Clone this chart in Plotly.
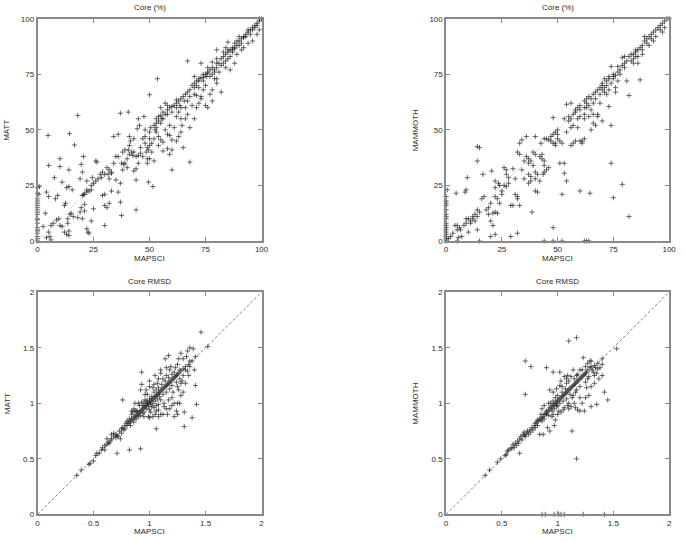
import plotly.graph_objects as go

# ---------------- data ----------------
# Panel A: Core (%)  MAPSCI (x) vs MATT (y)
core_matt = [
    (0,0),(0,1),(0,2),(0,3.5),(0,4.5),(0,5),(0,6),(0,8),(0,9.5),(0,10),(0,12),(0,13),(0,14),(0,15),(0,16),(0,17),(0,18),(0,19),(0,21.5),(0,24),
    (0.8,24.5),(0.6,21),(3.5,12.5),(2.5,6.5),(5.5,2),(6,0.5),(4,1.5),(5,4),(6,7),(7,8),(8.5,9.5),(9.5,10),(10,7),(11,6.5),(12,4),(13,3),
    (14,4.5),(14,2.5),(13.5,10),(12,16),(13.5,8),(14.5,12),(15,12.5),(16,11),(18,10.5),(19,13),(19.5,15),(20,10),(21,13.5),(21,16.5),
    (22,5.5),(22.5,4),(23,3.5),(24,9),(25,14.5),(22,23),(23,22.5),(24,23),(20,20.5),(20.5,21),(21,21),(22,22),(18,56.5),(4.7,47.5),
    (14.3,48.3),(16.5,43.2),(10,37),(10,33.5),(5,34),(14,32),(7.5,28.5),(11,26.5),(13,24),(14,24.5),(15.5,23),(4,22),(5,20),(9,20.5),
    (19.5,34.5),(20.5,38),(20,31),(19,28),(24.5,28.5),(26,36),(26.5,35.5),(22,27),(12.5,17),(8,19),
    (28,30),(28.5,28.5),(29,31),(30,30),(29,20.5),(30,21),(31,33),(31.5,30),(32,32),(33,31),(32,28),(33,22.5),(35,27.5),(37,26),(36,22),
    (37,17.5),(37.5,11.5),(38,32),(38.5,34.5),(39,35),(37.5,35),(40,37),(40,33),(41,39),(42,40),(42.5,38.5),(40.5,41),(41,43),(41,47),
    (41.5,45),(43,46),(43,40),(44,38),(45,38.5),(44,14),(44,27.5),(43,31.5),(44,32.5),(46,39.5),(47,46),(48,47),(48,44),(49,42),
    (49.5,41),(50,43),(49,37),(49,35),(49.5,26.5),(51.5,24.5),(36,48),(37,57.5),(40.5,58),(34,47),(45,55),(47.5,56),(50,65.8),(53.5,73),
    (45,35),(48.5,40),(50,37),(52,36),(51,40),(47,38),(46,42),(44.5,50.5),(45.5,52),(48,50),(50,49),(50.5,51),(52,52),(52.5,50),(53,53),
    (54,54),(34,35),(33,30.5),(35,38),(36,38),(38,40),(39,41),(27,28),(26,27),(25,26),(24,25),(30,16),(31,15),(30,7),(32,17),
    (53,55),(54,56),(55,56.5),(55.5,55),(56,58),(57,57),(58,59),(58,61),(59,60),(60,60.5),(61,61),(62,60),(62,62),(63,63),(63.5,61),
    (64,64),(64,60),(65,65),(65.5,63),(66,66),(67,67),(68,65),(68,68),(69,70),(70,69),(70,71),(71,70),(72,72),(72,69),(73,73.5),(74,72),
    (74,75),(75,75),(75.5,74),(53,49),(54,47),(55,45.5),(56,44.5),(57,50),(58,48),(59,52),(59,47.5),(60,45.5),(60,41),(58,41.5),
    (56,40.5),(54,43),(59,39),(60,32),(62,45),(63,47),(64,49),(65,42),(64.5,52),(66,55),(67,57),(68,51),(66,60),(67,63),(68,35.5),
    (70,55),(69,61),(71,60),(72,62),(73,65),(70,66),(71,65.5),(73,64),(74,68),(75,70),(74,73.5),(62,63.5),(60,58),(58,57),(56,55),
    (61,51),(62,56),(63,58),(64,55),(57,62),(55,60),(53,51),(67,81),(73,80),(70,74),(71,72),(72,73),(55,53),(52,46),(51,44),(50,46),
    (76,75.5),(76,76),(77,74),(77,77),(78,78),(78,75),(79,76),(79,73),(80,80),(80,78),(81,80),(81,76),(82,82),(82,79),(83,83),(83,80),
    (84,84),(84,81),(85,85),(85,86),(86,86),(86,83),(87,87),(87,85),(88,87),(88,89),(89,88),(89,90),(90,90),(90,88),(91,91),(91,89),
    (92,92),(92,91.5),(93,93),(93,92),(94,94),(94,95),(95,95),(95,93),(96,96),(96,95),(97,97),(97,96),(98,98),(98,97),(99,99),(99,100),
    (100,100),(98,93),(99,95),(92,87),(88,80),(82,67),(80,71),(78,63),(75,61),(76,60),(77,66),(78,68),(80,73),(84,78),(86,77),(87,86),
    (85,89.5),(84,87),(80,86),(79,77),(78,80.5),(76,78),(80,82),(90,92),(94,89),(96,90),(91,86),(88,86.5),(89,84),(85,82),(83,85),
]

# Panel B: Core (%)  MAPSCI (x) vs MAMMOTH (y)
core_mammoth = [
    (0,0),(0,1),(0,2),(0,3),(0,4),(0,5),(0,6),(0,7),(0,8),(0,10),(0,11),(0,12),(0,14),(0,16),(0,17),(0,18),(0,20),(0.5,23),
    (5,0),(15,0),(44,0),(48,0),(52,0),(62,0),(63,0),(64,0),
    (1,1),(2,2),(3,3.5),(4,7),(5,7),(5,5),(6,6),(6.5,5),(5.5,1.5),(7,2),(8,7),(9,8),(10,10),(11,9),(12,11),(13,12),(12,10),(14,11),
    (14,14),(15,13),(14,5),(10,4),(9,10),(11,8),(13,9),(4.5,21.5),(8.5,22),(9,23),(9.5,28.5),(14,42.5),(14,36),(15,42),(16.5,30),
    (17,20),(16,19),(18,14),(19,15),(20,17),(19,12),(20,9),(21,7),(20,2),(22,3),(21,12.5),(22,13),(22,20),(23,19),(23.5,26),(24,25),
    (25,21),(25,22.5),(20.5,31.5),(22,27),(22,24),(23,12.5),(24,17),(26,33),(27,32),(27,30),(26,25),(27,24.5),(28,26),(28,28.5),
    (29,16),(30,16),(29,2),(30,32.5),(31,28),(31,21),(32,20),(32,19),(32,40),(33,39),(33,16),(32,3.5),(34,32),(33,44),(34,45.5),
    (35,28),(35,36),(36,38),(36,47),(37,37),(37,35),(37,30),(37,26),(38,36),(38,29),(38,27),(39,40),(39,34),(38.5,13),(40,39),(40,47),
    (40,31),(40,28),(41,30),(40,22.5),(41,22),(42,38),(42,27),(42.5,44),(43,39),(43,37),(44,36),(44,34),(43.5,30),(44,31),(44,46),
    (45,46),(46,45.5),(47,45),(47,47),(48,48),(48,55.5),(48,6),(49,43),(49,44),(49,49),(50,48),(50,46),(51,45),(51,35),(52,44),(52,21),
    (53,35),(53,30.5),(54,27),(54,49),(53,55),(54,61.5),(55,54),(55,56),(56,55),(56,62),(56,51),(56,43),(57,44),(58,45),(57,52),(57,57),
    (58,58),(58,59),(59,51),(59,60),(60,59),(60,61),(60,22.5),(61,44),(60,45),(62,63),(62,57),(62,60),(62,55),(63,62),(63,64),(63,60),
    (64,65),(64,61),(64,56),(64.5,21.5),(65,64),(65,59),(65,50),(66,66),(66,53),(66,57),(67,67),(67,52),(68,56),(68,57),(68,68),(69,69),
    (69,66),(70,70),(70,68),(70,54),(70,71),(71,69),(71,67),(72,72),(72,70),(72,66),(73,73),(73,74),(73,68),(73,60.5),(74,78.5),(74,71),
    (74,52),(74,35),(75,75),(75,73),(75,74),(75,19.5),(76,69),(76,67),(77,76),(77,72),(78,77),(78,75),(79,79),(79,82.5),(79,25.5),
    (80,80),(80,78),(81,81),(81,72),(82,65.5),(82,11),(82,83),(83,84),(83,81),(84,84),(84,82),(85,86),(85,85),(86,86),(86,83),(87,87),
    (87,72.5),(88,88),(88,86),(89,90),(89,92),(90,91),(90,89),(91,92),(91,88),(92,93),(92,91),(93,94),(93,90),(94,95),(94,92),(95,96),
    (96,97),(96,95),(97,98),(98,99),(99,100),(100,100),(97,94),(98,96),(84,80),(85,83),(80,83),(77,78.5),(76,74.5),(86,80),(88,84),
    (62,46),(61,45),(46,33),(45,32),(48,44),(50,50),(69,62),(66,62),(67,64),(71,73),(60,56),(59,55),
]

# Panel C: Core RMSD  MAPSCI (x) vs MATT (y)
rmsd_matt = [
    (0.35,0.35),(0.39,0.4),(0.46,0.45),(0.47,0.46),(0.5,0.48),(0.52,0.53),(0.53,0.55),(0.55,0.55),(0.57,0.58),(0.58,0.6),(0.6,0.62),
    (0.6,0.58),(0.62,0.63),(0.62,0.68),(0.63,0.65),(0.64,0.64),(0.65,0.66),(0.66,0.72),(0.66,0.68),(0.68,0.7),(0.68,0.73),(0.7,0.72),
    (0.7,0.69),(0.71,0.71),(0.71,0.55),(0.72,0.7),(0.73,0.75),(0.74,0.68),(0.75,0.77),(0.75,0.73),(0.76,0.78),(0.76,1.03),(0.77,0.76),
    (0.78,0.8),(0.78,0.77),(0.79,0.82),(0.8,0.8),(0.8,0.84),(0.81,0.83),(0.82,0.58),(0.82,0.82),(0.82,0.86),(0.83,0.84),(0.83,0.8),
    (0.84,0.86),(0.84,0.9),(0.85,0.85),(0.85,0.92),(0.86,0.88),(0.86,0.83),(0.87,0.87),(0.87,0.93),(0.88,0.89),(0.88,0.86),(0.89,0.9),
    (0.89,0.93),(0.9,0.91),(0.9,0.88),(0.91,0.92),(0.92,0.59),(0.91,0.98),(0.92,0.93),(0.92,0.89),(0.93,0.94),(0.93,1.17),(0.93,1.28),
    (0.94,0.95),(0.94,0.98),(0.94,0.91),(0.95,0.96),(0.95,1.0),(0.95,0.92),(0.96,0.97),(0.96,1.03),(0.97,0.98),(0.97,0.95),(0.97,1.02),
    (0.98,0.99),(0.98,1.01),(0.98,1.08),(0.99,1.0),(0.99,0.97),(1.0,1.01),(1.0,1.04),(1.0,0.94),(1.01,1.02),(1.01,0.99),(1.02,1.03),
    (1.02,1.06),(1.02,0.97),(1.03,1.04),(1.03,1.0),(1.04,1.05),(1.04,1.1),(1.04,0.96),(1.05,1.06),(1.05,1.02),(1.06,0.77),(1.06,1.07),
    (1.06,1.12),(1.06,0.93),(1.07,1.08),(1.07,1.04),(1.08,1.09),(1.08,1.14),(1.08,0.99),(1.09,1.1),(1.09,1.06),(1.1,1.11),(1.1,1.03),
    (1.1,0.9),(1.11,1.12),(1.11,1.17),(1.12,1.13),(1.12,1.08),(1.13,1.14),(1.13,1.0),(1.14,1.15),(1.14,1.2),(1.15,1.16),(1.15,1.1),
    (1.15,0.95),(1.16,1.17),(1.17,1.18),(1.17,1.23),(1.18,1.19),(1.18,1.13),(1.19,1.2),(1.19,1.33),(1.2,1.21),(1.2,1.16),(1.2,1.05),
    (1.21,1.22),(1.22,1.23),(1.22,1.28),(1.23,1.24),(1.24,1.25),(1.24,1.19),(1.25,1.26),(1.25,1.0),(1.26,1.27),(1.27,1.3),(1.27,1.22),
    (1.28,1.29),(1.29,1.2),(1.3,1.31),(1.3,1.4),(1.31,0.79),(1.31,0.92),(1.32,1.33),(1.32,1.18),(1.34,1.47),(1.35,1.35),(1.36,1.5),
    (1.38,0.87),(1.38,1.38),(1.39,1.49),(1.41,1.42),(1.41,1.16),(1.42,0.99),(1.46,1.64),(1.52,1.51),(1.4,1.3),(1.35,1.25),(1.3,1.1),
    (1.28,1.07),(1.26,1.12),(1.22,0.88),(1.24,0.93),(1.16,0.9),(1.12,0.9),(1.08,0.88),(1.03,0.88),(0.99,0.88),(0.95,0.88),(1.0,0.87),
    (1.05,0.9),(0.97,1.12),(1.0,1.15),(0.92,1.12),(1.0,1.2),(1.05,1.25),(1.1,1.27),(1.17,1.43),(1.14,1.4),(1.1,1.3),(1.15,1.32),
    (1.08,1.22),(1.2,1.26),(1.23,1.32),(1.26,1.4),(1.28,1.45),(1.25,1.35),(1.33,1.42),(1.36,1.38),(1.03,1.14),(0.9,1.0),(0.86,0.95),
    (0.84,0.93),(0.88,0.93),(0.87,1.0),(0.93,1.01),(0.96,1.08),(1.04,1.17),(1.07,1.18),(1.12,1.22),(1.15,1.25),(1.18,1.3),(1.01,0.92),
    (1.06,0.98),(1.08,0.94),(1.13,0.97),(1.17,1.03),(1.21,1.1),(1.25,1.15),(1.28,1.18),(1.3,1.25),(1.32,1.3),(1.34,1.29),(1.36,1.33),
    (1.2,0.98),(1.22,1.0),(1.27,1.0),(1.18,0.95),(1.25,0.9),
]

# Panel D: Core RMSD  MAPSCI (x) vs MAMMOTH (y)
rmsd_mammoth = [
    (1.1,1.56),(1.17,1.59),(0.71,1.38),(0.76,1.33),(0.71,1.08),(0.9,1.32),(0.96,1.28),(1.02,1.28),(1.17,0.5),(1.13,0.75),(1.53,1.49),
    (1.42,1.1),(1.45,1.03),(0.86,0),(0.89,0),(0.97,0),(1.01,0),(1.03,0),(1.06,0),(1.23,0),(1.42,0),
    (0.35,0.35),(0.39,0.4),(0.46,0.47),(0.49,0.5),(0.53,0.53),(0.54,0.54),(0.55,0.57),(0.56,0.58),(0.58,0.59),(0.59,0.6),(0.6,0.63),
    (0.61,0.6),(0.62,0.64),(0.63,0.62),(0.64,0.66),(0.65,0.64),(0.66,0.55),(0.66,0.68),(0.67,0.7),(0.68,0.67),(0.69,0.72),(0.7,0.71),
    (0.7,0.74),(0.71,0.7),(0.72,0.73),(0.73,0.75),(0.74,0.72),(0.75,0.76),(0.76,0.74),(0.77,0.78),(0.78,0.76),(0.79,0.8),(0.8,0.82),
    (0.8,0.78),(0.81,0.83),(0.82,0.8),(0.82,0.85),(0.83,0.84),(0.84,0.86),(0.84,0.72),(0.85,0.85),(0.85,0.9),(0.86,0.87),(0.86,0.84),
    (0.87,0.72),(0.87,0.88),(0.88,0.9),(0.88,0.86),(0.89,0.91),(0.9,0.9),(0.9,0.93),(0.91,0.92),(0.92,0.94),(0.92,0.89),(0.93,0.96),
    (0.93,0.75),(0.94,0.95),(0.94,1.0),(0.95,0.97),(0.95,0.93),(0.96,0.98),(0.96,1.02),(0.97,0.99),(0.97,0.95),(0.98,1.0),(0.98,1.05),
    (0.99,1.01),(0.99,0.97),(1.0,1.02),(1.0,0.98),(1.0,1.07),(1.01,1.03),(1.01,0.93),(1.02,1.04),(1.02,1.0),(1.03,1.05),(1.03,0.92),
    (1.04,1.06),(1.04,1.1),(1.05,1.07),(1.05,1.02),(1.06,1.08),(1.06,0.96),(1.07,1.09),(1.07,1.13),(1.08,1.1),(1.08,1.04),(1.09,1.11),
    (1.09,0.98),(1.1,1.12),(1.1,1.2),(1.11,1.13),(1.11,1.08),(1.12,1.14),(1.12,1.24),(1.13,1.15),(1.13,1.05),(1.14,1.16),(1.15,1.17),
    (1.15,1.22),(1.16,1.18),(1.16,1.1),(1.17,1.19),(1.17,1.25),(1.18,1.2),(1.18,0.94),(1.19,1.21),(1.2,1.22),(1.2,1.15),(1.21,1.23),
    (1.22,1.24),(1.22,1.0),(1.23,1.25),(1.23,1.41),(1.24,1.26),(1.24,0.93),(1.25,1.27),(1.25,1.19),(1.26,1.28),(1.27,1.3),(1.27,1.22),
    (1.28,1.24),(1.29,1.32),(1.3,1.33),(1.3,1.38),(1.31,1.3),(1.32,1.28),(1.33,1.34),(1.34,1.32),(1.35,1.27),(1.36,1.31),(1.38,1.32),
    (1.4,1.4),(1.37,1.22),(1.33,1.18),(1.3,1.15),(1.28,1.07),(1.25,1.05),(1.3,0.97),(1.35,0.99),(1.2,1.05),(1.15,1.0),(1.12,0.97),
    (1.1,0.95),(1.05,0.94),(1.0,0.9),(0.98,0.85),(0.96,0.9),(0.95,0.88),(0.91,0.78),(0.97,0.8),(0.93,1.12),(0.96,1.1),(0.99,1.13),
    (1.02,1.16),(1.03,1.2),(1.06,1.24),(1.08,1.22),(1.09,1.25),(1.14,1.3),(1.18,1.26),(1.22,1.3),(1.25,1.33),(1.27,1.36),(1.29,1.38),
    (1.08,1.18),(1.04,1.15),(1.2,1.3),(0.88,0.98),(0.92,1.0),(0.86,0.95),(1.1,1.0),(1.14,1.07),(1.17,1.12),(1.26,1.14),(1.33,1.25),
    (1.36,1.36),(1.4,1.35),(1.4,1.25),(1.2,0.93),(1.16,0.96),
]

pct_ticks = [0, 25, 50, 75, 100]
pct_labels = ["0", "25", "50", "75", "100"]
rmsd_ticks = [0, 0.5, 1, 1.5, 2]
rmsd_labels = ["0", "0.5", "1", "1.5", "2"]
pct_diag = [0, 100]
rmsd_diag = [0, 2]

panels = [
    dict(pts=core_matt, diag=pct_diag, ticks=pct_ticks, labels=pct_labels, rng=[0, 100],
         title="Core (%)", ylab="MATT", dash="1px,1.5px", dcol="#a0a0a0", xlab_off=18),
    dict(pts=core_mammoth, diag=pct_diag, ticks=pct_ticks, labels=pct_labels, rng=[0, 100],
         title="Core (%)", ylab="MAMMOTH", dash="1px,1.5px", dcol="#a0a0a0", xlab_off=18),
    dict(pts=rmsd_matt, diag=rmsd_diag, ticks=rmsd_ticks, labels=rmsd_labels, rng=[0, 2],
         title="Core RMSD", ylab="MATT", dash="3px,2px", dcol="#666666", xlab_off=17.5),
    dict(pts=rmsd_mammoth, diag=rmsd_diag, ticks=rmsd_ticks, labels=rmsd_labels, rng=[0, 2],
         title="Core RMSD", ylab="MAMMOTH", dash="3px,2px", dcol="#666666", xlab_off=17.5),
]

W, H = 685, 542
# pixel boxes of plot areas: (left, right, top, bottom)
boxes = [(36, 263, 15, 241), (450, 676, 15, 241), (36, 263, 293, 519), (450, 676, 293, 519)]

FONT = "Liberation Sans, Arial, sans-serif"
TXT = "#2a2a2a"
FRAME = "#8a8a8a"

fig = go.Figure()
layout = dict(width=W, height=H, margin=dict(l=0, r=0, t=0, b=0),
              paper_bgcolor="white", plot_bgcolor="white", showlegend=False,
              font=dict(family=FONT, size=8, color=TXT))
annotations = []

for i, (p, (l, r, t, b)) in enumerate(zip(panels, boxes)):
    n = i + 1
    xa = "x" if n == 1 else f"x{n}"
    ya = "y" if n == 1 else f"y{n}"
    xs = [q[0] for q in p["pts"]]
    ys = [q[1] for q in p["pts"]]
    fig.add_trace(go.Scatter(x=p["diag"], y=p["diag"], mode="lines", xaxis=xa, yaxis=ya,
                             line=dict(color=p["dcol"], width=0.8, dash=p["dash"]), hoverinfo="skip"))
    fig.add_trace(go.Scatter(x=xs, y=ys, mode="markers", xaxis=xa, yaxis=ya, cliponaxis=False,
                             marker=dict(symbol="cross-thin", size=3.7,
                                         line=dict(width=1, color="rgba(40,40,40,0.68)"))))
    axcommon = dict(range=p["rng"], tickvals=p["ticks"], ticktext=p["labels"],
                    showgrid=False, zeroline=False, showline=True, linecolor=FRAME, linewidth=1.5,
                    mirror="ticks", ticks="inside", ticklen=4, tickcolor=FRAME, tickwidth=1,
                    tickfont=dict(family=FONT, size=8, color=TXT), fixedrange=True)
    kx = "xaxis" if n == 1 else f"xaxis{n}"
    ky = "yaxis" if n == 1 else f"yaxis{n}"
    layout[kx] = dict(axcommon, domain=[l / W, r / W], anchor=ya)
    layout[ky] = dict(axcommon, domain=[(H - b) / H, (H - t) / H], anchor=xa)
    cx = (l + r) / 2
    annotations.append(dict(text=p["title"], x=cx / W, y=(H - (t - 11)) / H, xref="paper", yref="paper",
                            showarrow=False, xanchor="center", yanchor="middle",
                            font=dict(family=FONT, size=8, color=TXT)))
    annotations.append(dict(text="MAPSCI", x=cx / W, y=(H - (b + p["xlab_off"])) / H, xref="paper", yref="paper",
                            showarrow=False, xanchor="center", yanchor="middle",
                            font=dict(family=FONT, size=8, color=TXT)))
    annotations.append(dict(text=p["ylab"], x=(l - 31) / W, y=(H - (t + b) / 2) / H, xref="paper", yref="paper",
                            showarrow=False, xanchor="center", yanchor="middle", textangle=-90,
                            font=dict(family=FONT, size=8, color=TXT)))

layout["annotations"] = annotations
fig.update_layout(**layout)
js = ("var s=document.documentElement.style;s.margin='0';s.padding='0';s.overflow='hidden';"
      "var b=document.body.style;b.margin='0';b.padding='0';b.overflow='hidden';")
fig.write_html("out.html", config={"displayModeBar": False}, post_script=js)
